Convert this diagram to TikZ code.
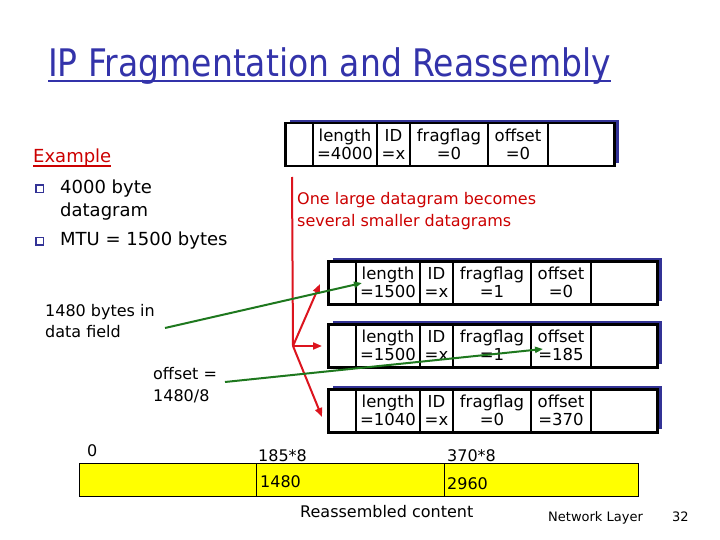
\documentclass[tikz,border=0pt]{standalone}
\usepackage{fontspec}
\setmainfont{DejaVu Sans}
\usetikzlibrary{arrows.meta,shadows}
\definecolor{titleblue}{RGB}{51,51,170}
\definecolor{shadowblue}{RGB}{51,51,150}
\definecolor{exred}{RGB}{204,0,0}
\definecolor{arrred}{RGB}{220,20,30}
\definecolor{dgreen}{RGB}{30,120,30}
\definecolor{baryellow}{RGB}{255,255,0}
\newcommand\ipbox[6]{%
  \node[pkt, anchor=north west] (#1) at (#2,#3) {};
  \foreach \d in {29,93,126,204,264}
    \draw[cellline] ([xshift=\d pt]#1.north west) -- ([xshift=\d pt]#1.south west);
  \node[celltxt] (#1-len) at ([xshift=61pt,yshift=0.5pt]#1.west) {length\\=#4};
  \node[celltxt] (#1-id) at ([xshift=109.5pt,yshift=0.5pt]#1.west) {ID\\=x};
  \node[celltxt] (#1-ff) at ([xshift=165pt,yshift=0.5pt]#1.west) {fragflag\\=#5};
  \node[celltxt] (#1-off) at ([xshift=234pt,yshift=0.5pt]#1.west) {offset\\=#6};
}
\begin{document}
\begin{tikzpicture}[x=1pt,y=-1pt,
  pkt/.style={draw, line width=2.5pt, fill=white, minimum width=329pt, minimum height=43pt, inner sep=0,
    drop shadow={shadow xshift=4.5pt, shadow yshift=3.5pt, fill=shadowblue, opacity=1}},
  cellline/.style={line width=2.5pt},
  celltxt/.style={font=\fontsize{16.5}{18.5}\selectfont, align=center, inner sep=0},
  txt/.style={anchor=base west, inner sep=0, font=\fontsize{16}{19}\selectfont},
  bigtxt/.style={anchor=base west, inner sep=0, font=\fontsize{18}{22}\selectfont},
  bulletsq/.style={draw=shadowblue, fill=white, line width=1.5pt, minimum size=7.5pt, inner sep=0},
  redline/.style={arrred, line width=2pt},
  redarrow/.style={arrred, line width=2pt, -{Triangle[length=9pt,width=7pt]}},
  greenarrow/.style={dgreen, line width=2pt, -{Triangle[length=8pt,width=6pt]}}
]
\useasboundingbox[fill=white] (0,0) rectangle (720,540);

% title
\node[anchor=base west, inner sep=0, font=\fontsize{33}{40}\selectfont, text=titleblue] (title) at (48,77) {\scalebox{1}[1.15]{IP Fragmentation and Reassembly}};
\draw[titleblue, line width=2pt] ([yshift=-4pt]title.base west) -- ([yshift=-4pt]title.base east);

% example
\node[bigtxt, text=exred] (ex) at (33,163) {Example};
\draw[exred, line width=1.5pt] ([yshift=-3pt]ex.base west) -- ([yshift=-3pt]ex.base east);
\node[bulletsq] (b1) at (39.5,189) {};
\node[bigtxt] (t1) at (60,194) {4000 byte};
\node[bigtxt] (t2) at (60,216) {datagram};
\node[bulletsq] (b2) at (39.5,241) {};
\node[bigtxt] (t3) at (60,245) {MTU = 1500 bytes};

% packets
\ipbox{orig}{284}{122}{4000}{0}{0}
\ipbox{f1}{327}{260}{1500}{1}{0}
\ipbox{f2}{327}{323}{1500}{1}{185}
\ipbox{f3}{327}{388}{1040}{0}{370}

% red text
\node[txt, text=exred] (r1) at (297,205) {One large datagram becomes};
\node[txt, text=exred] (r2) at (297,226) {several smaller datagrams};

% red arrows
\coordinate (rtop) at (292,177);
\coordinate (split) at (293,346);
\coordinate (a1) at (320,284);
\coordinate (a2) at (322,346);
\coordinate (a3) at (322,417);
\draw[redline] (rtop) -- (split);
\draw[redarrow] (split) -- (a1);
\draw[redarrow] (split) -- (a2);
\draw[redarrow] (split) -- (a3);

% left labels
\node[txt] (l1) at (45,316) {1480 bytes in};
\node[txt] (l2) at (45,337) {data field};
\node[txt] (o1) at (153,379) {offset =};
\node[txt] (o2) at (153,401) {1480/8};
\coordinate (g1s) at (165,328);
\coordinate (g1e) at (362,283);
\coordinate (g2s) at (225,382);
\coordinate (g2e) at (543,349);
\draw[greenarrow] (g1s) -- (g1e);
\draw[greenarrow] (g2s) -- (g2e);

% reassembled bar
\node[txt] (z0) at (87,456) {0};
\node[txt] (z1) at (258,461) {185*8};
\node[txt] (z2) at (447,461) {370*8};
\draw[fill=baryellow, line width=0.8pt] (79,463) rectangle (638,496);
\coordinate (d1t) at (256,463);
\coordinate (d1b) at (256,496);
\coordinate (d2t) at (444,463);
\coordinate (d2b) at (444,496);
\draw[line width=0.8pt] (d1t) -- (d1b);
\draw[line width=0.8pt] (d2t) -- (d2b);
\node[txt] (v1) at (260,487) {1480};
\node[txt] (v2) at (447,489) {2960};
\node[txt] (rc) at (300,517) {Reassembled content};
\node[anchor=base west, inner sep=0, font=\fontsize{13}{15}\selectfont] (nl) at (548,521) {Network Layer};
\node[anchor=base west, inner sep=0, font=\fontsize{13}{15}\selectfont] (pg) at (672,521) {32};
\end{tikzpicture}
\end{document}
